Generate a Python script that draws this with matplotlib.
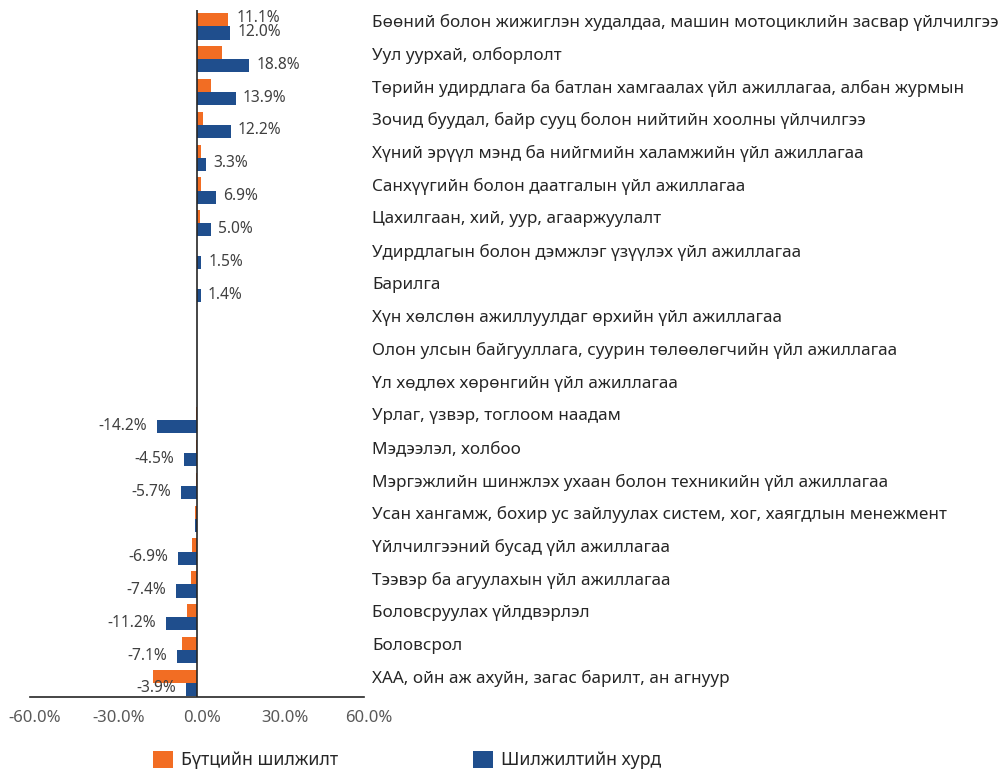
import matplotlib
matplotlib.use("Agg")
import matplotlib.pyplot as plt
from matplotlib.patches import Patch
import matplotlib.transforms as mtransforms

plt.rcParams['font.family'] = ['Noto Sans', 'DejaVu Sans']

categories = [
    "Бөөний болон жижиглэн худалдаа, машин мотоциклийн засвар үйлчилгээ",
    "Уул уурхай, олборлолт",
    "Төрийн удирдлага ба батлан хамгаалах үйл ажиллагаа, албан журмын",
    "Зочид буудал, байр сууц болон нийтийн хоолны үйлчилгээ",
    "Хүний эрүүл мэнд ба нийгмийн халамжийн үйл ажиллагаа",
    "Санхүүгийн болон даатгалын үйл ажиллагаа",
    "Цахилгаан, хий, уур, агааржуулалт",
    "Удирдлагын болон дэмжлэг үзүүлэх үйл ажиллагаа",
    "Барилга",
    "Хүн хөлслөн ажиллуулдаг өрхийн үйл ажиллагаа",
    "Олон улсын байгууллага, суурин төлөөлөгчийн үйл ажиллагаа",
    "Үл хөдлөх хөрөнгийн үйл ажиллагаа",
    "Урлаг, үзвэр, тоглоом наадам",
    "Мэдээлэл, холбоо",
    "Мэргэжлийн шинжлэх ухаан болон техникийн үйл ажиллагаа",
    "Усан хангамж, бохир ус зайлуулах систем, хог, хаягдлын менежмент",
    "Үйлчилгээний бусад үйл ажиллагаа",
    "Тээвэр ба агуулахын үйл ажиллагаа",
    "Боловсруулах үйлдвэрлэл",
    "Боловсрол",
    "ХАА, ойн аж ахуйн, загас барилт, ан агнуур",
]

# Бүтцийн шилжилт (structural shift), %
structural = [11.1, 9.0, 5.0, 2.1, 1.4, 1.4, 1.0, 0.1, 0.1, 0.0, 0.0, 0.0,
              -0.5, -0.5, -0.5, -0.7, -1.7, -2.0, -3.5, -5.5, -15.7]
# Шилжилтийн хурд (shift rate), %
rate = [12.0, 18.8, 13.9, 12.2, 3.3, 6.9, 5.0, 1.5, 1.4, 0.0, 0.0, 0.0,
        -14.2, -4.5, -5.7, -0.6, -6.9, -7.4, -11.2, -7.1, -3.9]
rate_labels = ["12.0%", "18.8%", "13.9%", "12.2%", "3.3%", "6.9%", "5.0%", "1.5%", "1.4%",
               "", "", "", "-14.2%", "-4.5%", "-5.7%", "", "-6.9%", "-7.4%", "-11.2%",
               "-7.1%", "-3.9%"]
structural_labels = ["11.1%"] + [""] * 20

xticks = [-60, -30, 0, 30, 60]
xtick_labels = ["-60.0%", "-30.0%", "0.0%", "30.0%", "60.0%"]

orange = "#F26D23"
blue = "#1F4E8D"

fig = plt.figure(figsize=(9.99, 7.72), dpi=100)
ax = fig.add_axes([30/999, 1-697/772, 334/999, 687/772])

n = len(categories)
ys = list(range(n))
h = 0.4
ax.barh([y - h/2 for y in ys], structural, height=h, color=orange)
ax.barh([y + h/2 for y in ys], rate, height=h, color=blue)

ax.set_xlim(-60, 60)
ax.set_ylim(n - 0.57, -0.5)
ax.set_xticks(xticks)
ax.set_xticklabels(xtick_labels, fontsize=12, color="#595959")
ax.set_yticks([])
ax.tick_params(axis='x', length=0, pad=9)
shift = mtransforms.ScaledTranslation(5/100, 0, fig.dpi_scale_trans)
for lbl in ax.get_xticklabels():
    lbl.set_transform(lbl.get_transform() + shift)
for s in ['top', 'right', 'left']:
    ax.spines[s].set_visible(False)
ax.spines['bottom'].set_color("#262626")
ax.spines['bottom'].set_linewidth(1.2)
ax.axvline(0, color="#262626", lw=1.2, zorder=3)

for y, v, lab in zip(ys, rate, rate_labels):
    if lab:
        off = 7 if v >= 0 else -10
        ax.annotate(lab, (v, y + h/2), xytext=(off, 1), textcoords='offset pixels',
                    ha='left' if v >= 0 else 'right', va='center',
                    fontsize=11.2, color="#404040")
for y, v, lab in zip(ys, structural, structural_labels):
    if lab:
        ax.annotate(lab, (v, y - h/2), xytext=(9, 2), textcoords='offset pixels',
                    ha='left', va='center', fontsize=11.2, color="#404040")

trans = mtransforms.blended_transform_factory(ax.transAxes, ax.transData)
for y, c in zip(ys, categories):
    ax.text((372-30)/334, y - 0.12, c, transform=trans, ha='left', va='center',
            fontsize=12.3, color="#262626")

handles = [Patch(facecolor=orange, edgecolor='none', label="Бүтцийн шилжилт"),
           Patch(facecolor=blue, edgecolor='none', label="Шилжилтийн хурд")]
fig.legend(handles=handles, loc='center left', bbox_to_anchor=(146/999, 1-760/772),
           ncol=2, frameon=False, fontsize=12.8, handlelength=1.12, handleheight=1.12,
           handletextpad=0.45, columnspacing=7.6, labelcolor="#262626", borderaxespad=0)

fig.savefig("out.png", dpi=100)
